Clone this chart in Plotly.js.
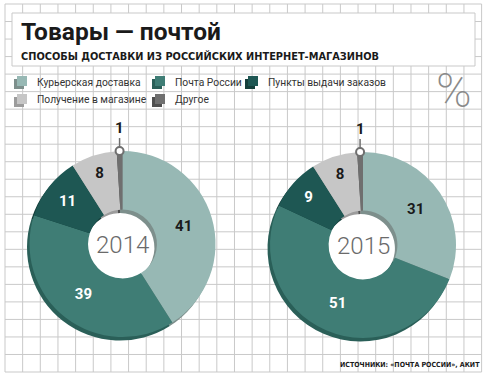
<!DOCTYPE html>
<html><head><meta charset="utf-8">
<script src="https://cdn.plot.ly/plotly-3.0.1.min.js"></script>
<style>html,body{margin:0;padding:0;background:#fff}</style></head><body>
<div id="chart" style="width:489px;height:380px"></div>
<script>
// ---- data ----
const categories = ['Курьерская доставка','Почта России','Пункты выдачи заказов','Получение в магазине','Другое'];
const years = ['2014','2015'];
const values2014 = [41, 39, 11, 8, 1];
const values2015 = [31, 51, 9, 8, 1];
const titleText = 'Товары — почтой';
const subtitleText = 'СПОСОБЫ ДОСТАВКИ ИЗ РОССИЙСКИХ ИНТЕРНЕТ-МАГАЗИНОВ';
const sourceText = 'ИСТОЧНИКИ: «ПОЧТА РОССИИ», АКИТ';
const unitText = '%';

// ---- style ----
const colors = ['#97b8b4','#3f7d75','#1e5753','#c6c6c6','#6f6f6f'];
const shadowColors = ['#7d8f8c','#2a5f58','#153f3b','#9c9c9c','#4f4f4f'];
const textColors = ['#1a1a1a','#ffffff','#ffffff','#1a1a1a','#ffffff'];
const W = 489, H = 380;
const X = px => px / W, Y = py => 1 - py / H;
const pies = [
  {year: years[0], values: values2014, cx: 122.5, cy: 244, R: 93},
  {year: years[1], values: values2015, cx: 363, cy: 245, R: 93}
];
const HOLE = 0.37;
const SDX = -2.5, SDY = 3.5;

function dom(p, dx, dy) {
  return {x: [X(p.cx - p.R + dx), X(p.cx + p.R + dx)],
          y: [Y(p.cy + p.R + dy), Y(p.cy - p.R + dy)]};
}

const traces = [];
pies.forEach(p => {
  traces.push({type:'pie', labels: categories, values: p.values, sort:false, direction:'clockwise',
    rotation:0, hole:HOLE, domain: dom(p, SDX, SDY), marker:{colors: shadowColors, line:{width:0}},
    textinfo:'none', hoverinfo:'skip', showlegend:false});
});
pies.forEach(p => {
  traces.push({type:'pie', labels: categories, values: p.values, sort:false, direction:'clockwise',
    rotation:0, hole:HOLE, domain: dom(p, 0, 0), marker:{colors: colors, line:{width:0}},
    text: p.values.map((v,i) => i === categories.length - 1 ? '' : String(v)),
    textinfo:'text', textposition:'inside', insidetextorientation:'horizontal',
    textfont:{family:'Roboto, sans-serif', size:15, weight:700, color: textColors},
    hoverinfo:'skip', showlegend:false});
});

const shapes = [];
// grid
const gx0 = 5, gx1 = 481.6, gy0 = 4, gy1 = 372;
const nc = 27, nr = 21;
for (let i = 0; i <= nc; i++) {
  const x = gx0 + i * (gx1 - gx0) / nc;
  shapes.push({type:'line', xref:'paper', yref:'paper', x0:X(x), x1:X(x), y0:Y(gy0), y1:Y(gy1),
    line:{color:'#c9c9c9', width:1}, layer:'below'});
}
for (let j = 0; j <= nr; j++) {
  const y = gy0 + j * (gy1 - gy0) / nr;
  shapes.push({type:'line', xref:'paper', yref:'paper', x0:X(gx0), x1:X(gx1), y0:Y(y), y1:Y(y),
    line:{color:'#c9c9c9', width:1}, layer:'below'});
}
// title box
shapes.push({type:'rect', xref:'paper', yref:'paper', x0:X(12), x1:X(475), y0:Y(13), y1:Y(66),
  fillcolor:'#ffffff', line:{color:'#c9c9c9', width:1}, layer:'below'});
// white hole centres
pies.forEach(p => {
  const r = p.R * HOLE + 2;
  shapes.push({type:'circle', xref:'paper', yref:'paper', x0:X(p.cx - r), x1:X(p.cx + r),
    y0:Y(p.cy + r), y1:Y(p.cy - r), fillcolor:'#ffffff', line:{width:0}, layer:'below'});
});

const annotations = [];
annotations.push({xref:'paper', yref:'paper', x:X(19), y:Y(31), xanchor:'left', yanchor:'middle',
  text:'<b>' + titleText + '</b>', showarrow:false, font:{family:'Roboto, sans-serif', size:24.5, color:'#1a1a1a', weight:900}});
annotations.push({xref:'paper', yref:'paper', x:X(19), y:Y(56), xanchor:'left', yanchor:'middle',
  text: subtitleText, showarrow:false, font:{family:'"DejaVu Sans Condensed", "Liberation Sans Narrow", Roboto, sans-serif', size:10.9, color:'#1a1a1a', weight:700}});
annotations.push({xref:'paper', yref:'paper', x:X(482), y:Y(365), xanchor:'right', yanchor:'middle',
  text: sourceText, showarrow:false, font:{family:'"DejaVu Sans Condensed", "Liberation Sans Narrow", Roboto, sans-serif', size:7, color:'#1a1a1a', weight:700}});
annotations.push({xref:'paper', yref:'paper', x:X(454), y:Y(91), xanchor:'center', yanchor:'middle',
  text: unitText, showarrow:false, font:{family:'Roboto, sans-serif', size:48, color:'#8a8a8a', weight:200}});

// legend
const legPos = [[14,82],[152,82],[245,82],[14,100],[152,100]];
categories.forEach((c, i) => {
  const [lx, ly] = legPos[i];
  shapes.push({type:'rect', xref:'paper', yref:'paper', x0:X(lx), x1:X(lx+10), y0:Y(ly+7), y1:Y(ly-3),
    fillcolor: shadowColors[i], line:{width:0}});
  shapes.push({type:'rect', xref:'paper', yref:'paper', x0:X(lx+3), x1:X(lx+13), y0:Y(ly+4), y1:Y(ly-6),
    fillcolor: colors[i], line:{width:0}});
  annotations.push({xref:'paper', yref:'paper', x:X(lx+21), y:Y(ly), xanchor:'left', yanchor:'middle',
    text: c, showarrow:false, font:{family:'Roboto, sans-serif', size:10.3, color:'#333333'}});
});

// years and pins for the smallest slice
pies.forEach(p => {
  annotations.push({xref:'paper', yref:'paper', x:X(p.cx), y:Y(p.cy + 1), xanchor:'center', yanchor:'middle',
    text: p.year, showarrow:false, font:{family:'Roboto, sans-serif', size:24, color:'#6a6a6a', weight:300}});
  const total = p.values.reduce((a,b) => a + b, 0);
  const last = p.values.length - 1;
  const before = p.values.slice(0, last).reduce((a,b) => a + b, 0);
  const ang = 2 * Math.PI * (before + p.values[last] / 2) / total;
  const px = p.cx + p.R * Math.sin(ang), py = p.cy - p.R * Math.cos(ang);
  shapes.push({type:'line', xref:'paper', yref:'paper', x0:X(px), x1:X(px), y0:Y(py - 4), y1:Y(py - 13),
    line:{color:'#6f6f6f', width:1.5}});
  shapes.push({type:'circle', xref:'paper', yref:'paper', x0:X(px - 4), x1:X(px + 4), y0:Y(py + 4), y1:Y(py - 4),
    fillcolor:'#ffffff', line:{color:'#6f6f6f', width:2}});
  annotations.push({xref:'paper', yref:'paper', x:X(px), y:Y(py - 23), xanchor:'center', yanchor:'middle',
    text: '<b>' + p.values[last] + '</b>', showarrow:false, font:{family:'Roboto, sans-serif', size:15, color:'#1a1a1a'}});
});

Plotly.newPlot('chart', traces, {
  width: W, height: H, margin:{l:0, r:0, t:0, b:0}, paper_bgcolor:'#ffffff', plot_bgcolor:'rgba(0,0,0,0)',
  showlegend:false, shapes: shapes, annotations: annotations
}, {staticPlot:true});
</script></body></html>
